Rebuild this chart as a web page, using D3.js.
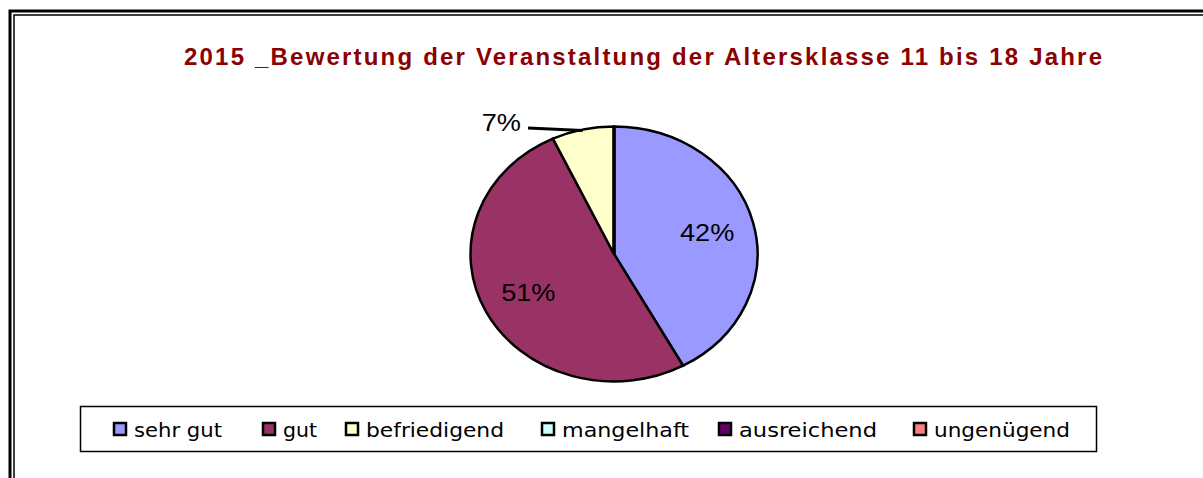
<!DOCTYPE html>
<html lang="de">
<head>
<meta charset="UTF-8">
<title>Bewertung 2015</title>
<script src="https://d3js.org/d3.v7.min.js"></script>
<style>
  body { margin: 0; background: #fff; }
  svg { display: block; }
</style>
</head>
<body>
<svg id="chart" width="1203" height="478"></svg>
<script>
// Daten
const kategorien = ["sehr gut", "gut", "befriedigend", "mangelhaft", "ausreichend", "ungenügend"];
const werte = [42, 51, 7, 0, 0, 0];
const farben = ["#9999FF", "#993366", "#FFFFCC", "#CCFFFF", "#660066", "#FF8080"];
const titel = "2015 _Bewertung der Veranstaltung der Altersklasse 11 bis 18 Jahre";

const svg = d3.select("#chart");

// doppelter Rahmen (oben und links)
svg.append("path").attr("d", "M10,478 V11 H1203").attr("fill", "none").attr("stroke", "#000").attr("stroke-width", 3);
svg.append("path").attr("d", "M14,478 V15 H1203").attr("fill", "none").attr("stroke", "#000").attr("stroke-width", 1.5);

svg.append("text")
  .attr("x", 643).attr("y", 65)
  .attr("text-anchor", "middle")
  .attr("font-family", "Liberation Sans, Arial, sans-serif")
  .attr("font-weight", "bold")
  .attr("font-size", 24)
  .attr("textLength", 918)
  .attr("lengthAdjust", "spacing")
  .attr("fill", "#8B0000")
  .text(titel);

// Kreisdiagramm (leicht elliptisch)
const cx = 614, cy = 254, rx = 143.5, ry = 127.5;
const sy = ry / rx;
const pie = d3.pie().sort(null).value(d => d);
const daten = pie(werte);
const arc = d3.arc().innerRadius(0).outerRadius(rx);

const g = svg.append("g").attr("transform", `translate(${cx},${cy}) scale(1,${sy})`);
g.selectAll("path")
  .data(daten.filter(d => d.value > 0))
  .join("path")
  .attr("d", arc)
  .attr("fill", d => farben[d.index])
  .attr("stroke", "#000")
  .attr("stroke-width", 2.5)
  .attr("vector-effect", "non-scaling-stroke");

// Linie nach oben etwas kräftiger
g.append("line").attr("x1", 0).attr("y1", 0).attr("x2", 0).attr("y2", -rx)
  .attr("stroke", "#000").attr("stroke-width", 3.5).attr("vector-effect", "non-scaling-stroke");

const beschrFont = "Liberation Sans, Arial, sans-serif";
const innen = d3.arc().innerRadius(rx * 0.67).outerRadius(rx * 0.67);

function label(x, y, anchor, txt) {
  const t = svg.append("text")
    .attr("x", x).attr("y", y)
    .attr("text-anchor", anchor)
    .attr("font-family", beschrFont)
    .attr("font-size", 23)
    .attr("fill", "#000")
    .text(txt);
  // Excel-Beschriftung wirkt breiter
  t.attr("textLength", t.node().getComputedTextLength() * 1.18)
   .attr("lengthAdjust", "spacingAndGlyphs");
  return t;
}

daten.forEach(d => {
  if (d.value <= 0) return;
  const pct = d.value + "%";
  if (d.value >= 10) {
    const [x, y] = innen.centroid(d);
    label(cx + x, cy + y * sy + 8, "middle", pct);
  } else {
    const a = (d.startAngle + d.endAngle) / 2;
    const px = cx + rx * Math.sin(a), py = cy - ry * Math.cos(a);
    svg.append("line")
      .attr("x1", px).attr("y1", py + 1).attr("x2", 528).attr("y2", 128)
      .attr("stroke", "#000").attr("stroke-width", 3);
    label(521, 131, "end", pct);
  }
});

// Legende
svg.append("rect").attr("x", 80.5).attr("y", 406.5).attr("width", 1016).attr("height", 45)
  .attr("fill", "#fff").attr("stroke", "#000").attr("stroke-width", 1.5);

const legX = [113, 262, 345, 541, 718, 913];
const legW = [88, 34, 138, 127, 138, 136];
const leg = svg.selectAll("g.leg").data(kategorien).join("g").attr("class", "leg")
  .attr("transform", (d, i) => `translate(${legX[i]},422)`);
leg.append("rect").attr("x", 1).attr("y", 1).attr("width", 12).attr("height", 12)
  .attr("fill", (d, i) => farben[i]).attr("stroke", "#000").attr("stroke-width", 2.5);
leg.append("text")
  .attr("x", 21).attr("y", 15)
  .attr("font-family", "DejaVu Sans Condensed, Liberation Sans Narrow, sans-serif")
  .attr("font-size", 20)
  .attr("font-weight", 300)
  .attr("textLength", (d, i) => legW[i])
  .attr("lengthAdjust", "spacingAndGlyphs")
  .attr("fill", "#000")
  .text(d => d);
</script>
</body>
</html>
